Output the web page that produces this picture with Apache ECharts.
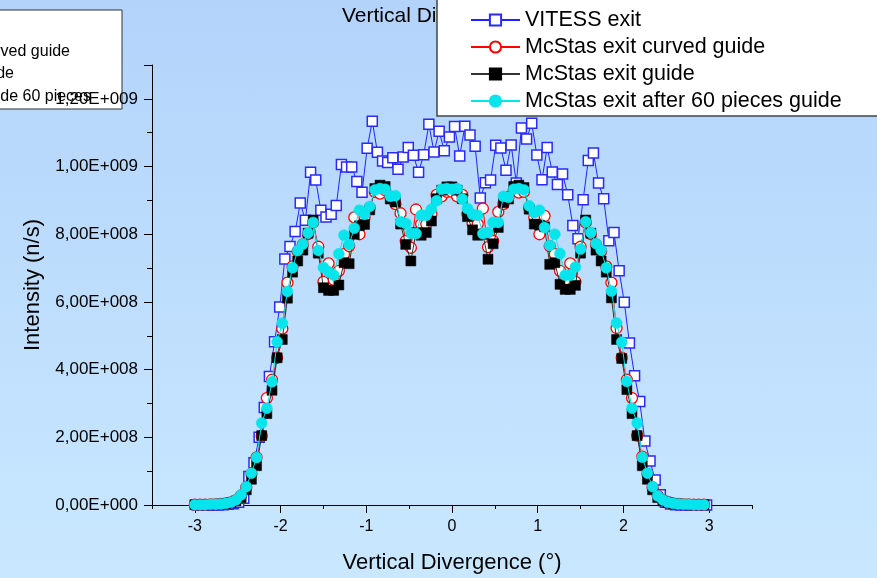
<!DOCTYPE html>
<html>
<head>
<meta charset="utf-8">
<script src="https://cdn.jsdelivr.net/npm/echarts@6/dist/echarts.min.js"></script>
<style>
html,body{margin:0;padding:0;}
#c{width:877px;height:578px;background:linear-gradient(to bottom,#b3d3fb 0%,#c9e8ff 100%);}
</style>
</head>
<body>
<div id="c"></div>
<script>
// ---- data (intensity values in units of 1E+009 n/s) ----
const SCALE = 1e9;
const mcX = [-3,-2.94,-2.88,-2.82,-2.76,-2.7,-2.64,-2.58,-2.52,-2.46,
-2.4,-2.34,-2.28,-2.22,-2.16,-2.1,-2.04,-1.98,-1.92,-1.86,
-1.8,-1.74,-1.68,-1.62,-1.56,-1.5,-1.44,-1.38,-1.32,-1.26,
-1.2,-1.14,-1.08,-1.02,-0.96,-0.9,-0.84,-0.78,-0.72,-0.66,
-0.6,-0.54,-0.48,-0.42,-0.36,-0.3,-0.24,-0.18,-0.12,-0.06,
0,0.06,0.12,0.18,0.24,0.3,0.36,0.42,0.48,0.54,
0.6,0.66,0.72,0.78,0.84,0.9,0.96,1.02,1.08,1.14,
1.2,1.26,1.32,1.38,1.44,1.5,1.56,1.62,1.68,1.74,
1.8,1.86,1.92,1.98,2.04,2.1,2.16,2.22,2.28,2.34,
2.4,2.46,2.52,2.58,2.64,2.7,2.76,2.82,2.88,2.94];
const vitX = [-2.97,-2.91,-2.85,-2.79,-2.73,-2.67,-2.61,-2.55,-2.49,-2.43,
-2.37,-2.31,-2.25,-2.19,-2.13,-2.07,-2.01,-1.95,-1.89,-1.83,
-1.77,-1.71,-1.65,-1.59,-1.53,-1.47,-1.41,-1.35,-1.29,-1.23,
-1.17,-1.11,-1.05,-0.99,-0.93,-0.87,-0.81,-0.75,-0.69,-0.63,
-0.57,-0.51,-0.45,-0.39,-0.33,-0.27,-0.21,-0.15,-0.09,-0.03,
0.03,0.09,0.15,0.21,0.27,0.33,0.39,0.45,0.51,0.57,
0.63,0.69,0.75,0.81,0.87,0.93,0.99,1.05,1.11,1.17,
1.23,1.29,1.35,1.41,1.47,1.53,1.59,1.65,1.71,1.77,
1.83,1.89,1.95,2.01,2.07,2.13,2.19,2.25,2.31,2.37,
2.43,2.49,2.55,2.61,2.67,2.73,2.79,2.85,2.91,2.97];
const vitessExit = [0,0,0,0,0,0.001,0.002,0.004,0.008,0.020,
0.084,0.125,0.200,0.288,0.380,0.482,0.585,0.727,0.764,0.808,
0.892,0.841,0.983,0.960,0.871,0.851,0.859,0.885,1.006,0.999,
0.999,0.956,0.924,1.054,1.134,1.042,1.016,1.012,1.026,0.992,
1.028,1.056,1.033,0.983,1.035,1.125,1.043,1.104,1.047,1.087,
1.118,1.031,1.119,1.093,1.060,0.907,0.952,0.960,1.063,1.055,
0.989,1.064,0.951,1.114,1.081,1.128,1.034,0.961,1.056,0.984,
0.947,0.978,0.917,0.826,0.787,0.902,1.018,1.040,0.951,0.905,
0.781,0.805,0.692,0.599,0.479,0.382,0.306,0.189,0.130,0.074,
0.030,0.008,0.003,0.001,0,0,0,0,0,0];
const mcstasCurved = [0.001,0.001,0.001,0.002,0.002,0.003,0.005,0.008,0.014,0.028,
0.052,0.092,0.141,0.204,0.316,0.370,0.435,0.521,0.657,0.705,
0.750,0.770,0.800,0.835,0.763,0.659,0.714,0.665,0.692,0.741,
0.765,0.850,0.800,0.850,0.878,0.925,0.920,0.930,0.910,0.889,
0.862,0.780,0.760,0.873,0.830,0.830,0.860,0.916,0.912,0.925,
0.925,0.912,0.916,0.860,0.832,0.830,0.876,0.762,0.780,0.866,
0.889,0.910,0.930,0.923,0.925,0.878,0.850,0.800,0.854,0.765,
0.741,0.692,0.665,0.714,0.659,0.763,0.835,0.800,0.770,0.750,
0.705,0.657,0.523,0.435,0.370,0.316,0.205,0.143,0.092,0.052,
0.028,0.014,0.008,0.005,0.003,0.002,0.002,0.001,0.001,0.001];
const mcstasGuide = [0.001,0.001,0.001,0.001,0.002,0.003,0.004,0.007,0.012,0.022,
0.045,0.076,0.116,0.205,0.270,0.339,0.435,0.489,0.611,0.688,
0.721,0.753,0.803,0.842,0.744,0.642,0.634,0.634,0.650,0.716,
0.713,0.800,0.825,0.829,0.872,0.935,0.945,0.941,0.904,0.895,
0.830,0.770,0.721,0.805,0.797,0.805,0.839,0.905,0.930,0.940,
0.940,0.930,0.905,0.852,0.813,0.797,0.800,0.726,0.772,0.820,
0.893,0.904,0.941,0.945,0.938,0.874,0.830,0.827,0.822,0.711,
0.716,0.652,0.637,0.637,0.649,0.744,0.842,0.803,0.753,0.721,
0.688,0.612,0.489,0.433,0.341,0.270,0.205,0.116,0.076,0.045,
0.022,0.012,0.007,0.004,0.003,0.002,0.001,0.001,0.001,0.001];
const mcstas60 = [0.001,0.001,0.001,0.002,0.002,0.003,0.005,0.008,0.015,0.030,
0.054,0.094,0.140,0.242,0.286,0.364,0.482,0.537,0.631,0.701,
0.752,0.771,0.804,0.835,0.752,0.702,0.689,0.679,0.742,0.797,
0.769,0.818,0.871,0.859,0.882,0.931,0.935,0.933,0.912,0.914,
0.837,0.832,0.803,0.802,0.856,0.856,0.874,0.899,0.933,0.935,
0.933,0.935,0.904,0.876,0.859,0.856,0.802,0.805,0.835,0.835,
0.912,0.909,0.933,0.935,0.931,0.884,0.864,0.871,0.820,0.767,
0.800,0.743,0.679,0.679,0.703,0.756,0.837,0.805,0.772,0.753,
0.701,0.632,0.538,0.481,0.365,0.286,0.242,0.141,0.094,0.054,
0.027,0.015,0.008,0.005,0.003,0.002,0.002,0.001,0.001,0.001];
const seriesNames = ['VITESS exit','McStas exit curved guide','McStas exit guide','McStas exit after 60 pieces guide'];
const xTickLabels = [-3,-2,-1,0,1,2,3];
const xMinorTicks = [-3.5,-2.5,-1.5,-0.5,0.5,1.5,2.5,3.5];
const ghostLegendTexts = ['McStas exit curved guide','McStas exit guide','McStas exit guide 60 pieces'];
const titleText = 'Vertical Divergence';

function pairs(xs, ys){ return xs.map((x,i)=>[x, ys[i]*SCALE]); }
function sci(v){
  if (v === 0) return '0,00E+000';
  const e = Math.floor(Math.log10(Math.abs(v)) + 1e-9);
  const m = v / Math.pow(10, e);
  return m.toFixed(2).replace('.', ',') + 'E+' + String(e).padStart(3,'0');
}
const FONT = '"Liberation Sans", Arial, sans-serif';
const CYAN = '#06e4ec';

const chart = echarts.init(document.getElementById('c'), null, {renderer:'canvas'});
chart.setOption({
  backgroundColor: 'transparent',
  animation: false,
  textStyle: {fontFamily: FONT},
  title: {
    text: titleText, left: 342, top: 6, padding: 0, z: 1,
    textStyle: {fontFamily: FONT, fontSize: 21, fontWeight: 'normal', color: '#000'}
  },
  graphic: [
    {type:'rect', z: -1, z2: 0, shape:{x:-10, y:10, width:132, height:99},
     style:{fill:'#fff', stroke:'#333', lineWidth:1}},
    {type:'text', z: -1, z2: 1, style:{text: ghostLegendTexts[0], x:70, y:52, align:'right', verticalAlign:'middle', font:'16px "Liberation Sans", Arial', fill:'#000'}},
    {type:'text', z: -1, z2: 1, style:{text: ghostLegendTexts[1], x:14, y:74, align:'right', verticalAlign:'middle', font:'16px "Liberation Sans", Arial', fill:'#000'}},
    {type:'text', z: -1, z2: 1, style:{text: ghostLegendTexts[2], x:91, y:97, align:'right', verticalAlign:'middle', font:'16px "Liberation Sans", Arial', fill:'#000'}},
    {type:'rect', z: 3, shape:{x:437, y:-5, width:450, height:121},
     style:{fill:'#fff', stroke:'#444', lineWidth:1.5}}
  ],
  legend: {
    z: 5, padding: 0,
    orient: 'vertical', left: 470, top: 9,
    itemWidth: 49, itemHeight: 14, itemGap: 5,
    data: seriesNames,
    textStyle: {fontFamily: FONT, fontSize: 21.5, color: '#000'}
  },
  grid: {left: 152, top: 65, width: 600, height: 440, containLabel: false, outerBoundsMode: 'none'},
  xAxis: [{
    type: 'value', min: -3.5, max: 3.5,
    name: 'Vertical Divergence (°)', nameLocation: 'middle', nameGap: 47,
    nameTextStyle: {fontFamily: FONT, fontSize: 22, color: '#000'},
    axisLine: {onZero: false, lineStyle: {color: '#000', width: 1}},
    axisTick: {show: true, customValues: xTickLabels, length: 8, lineStyle:{color:'#000'}},
    axisLabel: {customValues: xTickLabels, color: '#000', fontSize: 16, margin: 14, fontFamily: FONT},
    splitLine: {show: false}
  },{
    type: 'value', min: -3.5, max: 3.5, position: 'bottom',
    axisLine: {show: false, onZero: false},
    axisTick: {show: true, customValues: xMinorTicks, length: 4, lineStyle:{color:'#000'}},
    axisLabel: {show: false},
    splitLine: {show: false}
  }],
  yAxis: {
    type: 'value', min: 0, max: 1.3e9, interval: 2e8,
    name: 'Intensity (n/s)', nameLocation: 'middle', nameGap: 106,
    nameTextStyle: {fontFamily: FONT, fontSize: 22, color: '#000'},
    axisLine: {show: true, onZero: false, lineStyle: {color: '#000', width: 1}},
    axisTick: {show: true, length: 8, lineStyle:{color:'#000'}},
    minorTick: {show: true, splitNumber: 2, length: 5, lineStyle:{color:'#000'}},
    axisLabel: {formatter: sci, color: '#000', fontSize: 17, margin: 14, showMaxLabel: false, fontFamily: FONT},
    splitLine: {show: false}
  },
  series: [
    {name: seriesNames[0], type: 'line', data: pairs(vitX, vitessExit),
     symbol: 'rect', symbolSize: 10, z: 2,
     lineStyle: {color: '#2222ff', width: 1},
     itemStyle: {color: '#fff', borderColor: '#2a2aff', borderWidth: 1.5}},
    {name: seriesNames[1], type: 'line', data: pairs(mcX, mcstasCurved),
     symbol: 'circle', symbolSize: 11, z: 3,
     lineStyle: {color: '#ff0000', width: 1},
     itemStyle: {color: '#fff', borderColor: '#ff0000', borderWidth: 1.3}},
    {name: seriesNames[2], type: 'line', data: pairs(mcX, mcstasGuide),
     symbol: 'rect', symbolSize: 10, z: 4,
     lineStyle: {color: '#333', width: 1},
     itemStyle: {color: '#000', borderColor: '#000', borderWidth: 0.5}},
    {name: seriesNames[3], type: 'line', data: pairs(mcX, mcstas60),
     symbol: 'circle', symbolSize: 11, z: 5,
     lineStyle: {color: CYAN, width: 1},
     itemStyle: {color: CYAN, borderColor: CYAN, borderWidth: 0.5}}
  ]
});
</script>
</body>
</html>
